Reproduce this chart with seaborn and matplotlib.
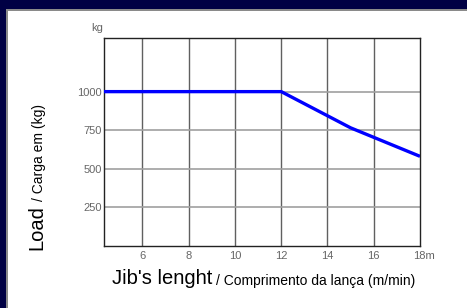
import matplotlib
matplotlib.use("Agg")
import matplotlib.pyplot as plt
import matplotlib.transforms as mtransforms
from matplotlib.patches import Rectangle
import seaborn as sns
import pandas as pd

# Data
jib_length = [4.0, 12.0, 15.0, 18.0]
load_kg = [1000, 1000, 765, 580]
x_ticks = [6, 8, 10, 12, 14, 16, 18]
x_tick_labels = ["6", "8", "10", "12", "14", "16", "18m"]
y_ticks = [250, 500, 750, 1000]
y_tick_labels = ["250", "500", "750", "1000"]

sns.set_theme(style="white")
plt.rcParams["font.family"] = ["Liberation Sans", "DejaVu Sans"]

W, H = 467, 308
navy = "#000044"
fig = plt.figure(figsize=(W / 100, H / 100), dpi=100)
fig.patch.set_facecolor("white")
# navy strips on top and left, with a gray inner edge
fig.add_artist(Rectangle((0, 1 - 9 / H), 1, 9 / H, transform=fig.transFigure,
                         facecolor=navy, edgecolor="none", zorder=0))
fig.add_artist(Rectangle((0, 0), 6 / W, 1, transform=fig.transFigure,
                         facecolor=navy, edgecolor="none", zorder=0))
fig.add_artist(Rectangle((6 / W, 1 - 10.5 / H), 1, 1.5 / H, transform=fig.transFigure,
                         facecolor="#8a8a8a", edgecolor="none", zorder=0))
fig.add_artist(Rectangle((6 / W, 0), 1.5 / W, 1 - 9 / H, transform=fig.transFigure,
                         facecolor="#8a8a8a", edgecolor="none", zorder=0))

ax = fig.add_axes([104.3 / W, (H - 245.7) / H, (420 - 104.3) / W, (245.7 - 37.7) / H])
ax.set_facecolor("white")

df = pd.DataFrame({"x": jib_length, "y": load_kg})
sns.lineplot(data=df, x="x", y="y", ax=ax, color="#0000ff", linewidth=2.4,
             solid_capstyle="butt", zorder=5)

ax.set_xlim(4.35, 18)
ax.set_ylim(0, 1350)
ax.set_xticks(x_ticks)
ax.set_xticklabels(x_tick_labels)
ax.set_yticks(y_ticks)
ax.set_yticklabels(y_tick_labels)
ax.tick_params(axis="both", length=0, labelsize=8, labelcolor="#666666")
ax.tick_params(axis="x", pad=4)
ax.tick_params(axis="y", pad=2)
ax.set_xlabel("")
ax.set_ylabel("")

# grid
for xv in x_ticks[:-1]:
    ax.axvline(xv, color="#606060", linewidth=1.0, zorder=1)
for yv in y_ticks:
    ax.axhline(yv, color="#a0a0a0", linewidth=1.2, zorder=1)

for s in ax.spines.values():
    s.set_visible(True)
    s.set_color("#222222")
    s.set_linewidth(1.0)

# shift "18m" label so that "18" is centred on the tick
lbl = ax.get_xticklabels()[-1]
lbl.set_horizontalalignment("left")
lbl.set_transform(lbl.get_transform() + mtransforms.ScaledTranslation(-6.5 / 100, 0, fig.dpi_scale_trans))

fig.text(97 / W, 1 - 28 / H, "kg", ha="center", va="center", fontsize=8, color="#666666")

# x label (two sizes)
big_x = fig.text(111.7 / W, 23.5 / H, "Jib's lenght", fontsize=14.5, color="black",
                 ha="left", va="baseline")
# y label (two sizes, rotated)
big_y = fig.text(42.5 / W, 58 / H, "Load", fontsize=14.5, color="black", rotation=90,
                 rotation_mode="anchor", ha="left", va="baseline")

fig.canvas.draw()
r = fig.canvas.get_renderer()
bx = big_x.get_window_extent(r)
fig.text((bx.x1 + 4) / W, 23.5 / H, "/ Comprimento da lança (m/min)", fontsize=10,
         color="black", ha="left", va="baseline")
by = big_y.get_window_extent(r)
fig.text(42.5 / W, (by.y1 + 4) / H, "/ Carga em (kg)", fontsize=10, color="black",
         rotation=90, rotation_mode="anchor", ha="left", va="baseline")

fig.savefig("out.png", dpi=100, facecolor=fig.get_facecolor())
